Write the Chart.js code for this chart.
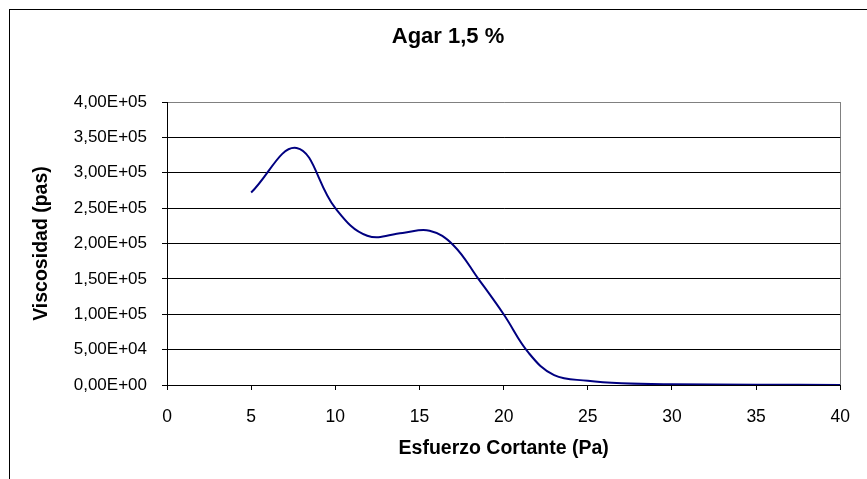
<!DOCTYPE html>
<html>
<head>
<meta charset="utf-8">
<script src="https://cdn.jsdelivr.net/npm/chart.js@4/dist/chart.umd.min.js"></script>
<style>
  html, body { margin: 0; padding: 0; background: #fff; overflow: hidden; }
  #wrap { position: absolute; left: 0; top: 0; width: 867px; height: 479px; }
</style>
</head>
<body>
<div id="wrap"><canvas id="myChart"></canvas></div>
<script>
'use strict';

const esfuerzo = [5, 7.7, 10, 11.9, 14, 15.6, 17, 18.5, 20, 21.5, 23, 25, 27, 30, 35, 40];
const viscosidad = [272000, 335000, 250000, 211000, 215000, 218000, 198000, 150000, 100000, 45000, 14000, 6000, 2500, 1000, 400, 100];
const xTicks = [0, 5, 10, 15, 20, 25, 30, 35, 40];
const yTicks = [0, 50000, 100000, 150000, 200000, 250000, 300000, 350000, 400000];

const fmtSci = (v) => {
    if (v === 0) return '0,00E+00';
    const parts = v.toExponential(2).split('e');
    const m = parts[0].replace('.', ',');
    let e = parseInt(parts[1], 10);
    const sign = e < 0 ? '-' : '+';
    e = Math.abs(e);
    return m + 'E' + sign + (e < 10 ? '0' + e : e);
};

// outer frame + chart title
const frame = {
    id: 'frame',
    beforeDraw(chart) {
        const c = chart.ctx;
        c.save();
        c.fillStyle = '#fff';
        c.fillRect(0, 0, chart.width, chart.height);
        c.strokeStyle = '#000';
        c.lineWidth = 1;
        c.strokeRect(9.5, 9.5, 900, 500);
        c.restore();
    },
    afterDraw(chart) {
        const c = chart.ctx;
        c.save();
        c.fillStyle = '#000';
        c.font = 'bold 22px "Liberation Sans", Arial, sans-serif';
        c.textAlign = 'center';
        c.textBaseline = 'middle';
        c.fillText('Agar 1,5 %', 448, 37);
        c.restore();
    }
};

Chart.defaults.font.family = '"Liberation Sans", Arial, sans-serif';
Chart.defaults.color = '#000';

const config = {
    type: 'line',
    data: {
        datasets: [{
            label: 'Agar 1,5 %',
            data: esfuerzo.map((x, i) => ({x: x, y: viscosidad[i]})),
            borderColor: '#000080',
            borderWidth: 2,
            pointRadius: 0,
            fill: false,
            tension: 0.4
        }]
    },
    options: {
        responsive: true,
        maintainAspectRatio: false,
        animation: false,
        layout: {
            padding: {top: 102, left: 0, right: 19, bottom: 0}
        },
        plugins: {
            legend: {display: false},
            title: {display: false},
            tooltip: {enabled: false}
        },
        scales: {
            x: {
                type: 'linear',
                min: 0,
                max: 40,
                afterBuildTicks: (s) => { s.ticks = xTicks.map(v => ({value: v})); },
                afterFit: (s) => { s.height = 94; },
                border: {color: '#000', width: 1},
                grid: {
                    color: (ctx) => ctx.tick && ctx.tick.value === 40 ? '#808080' : 'rgba(0,0,0,0)',
                    tickColor: '#000',
                    tickLength: 5,
                    lineWidth: 1
                },
                ticks: {
                    padding: 17,
                    maxRotation: 0,
                    font: {size: 17.5}
                },
                title: {
                    display: true,
                    text: 'Esfuerzo Cortante (Pa)',
                    font: {size: 19.5, weight: 'bold'},
                    padding: {top: 0, bottom: 19}
                }
            },
            y: {
                min: 0,
                max: 400000,
                afterBuildTicks: (s) => { s.ticks = yTicks.map(v => ({value: v})); },
                afterFit: (s) => { s.width = 167; },
                border: {color: '#000', width: 1},
                grid: {
                    color: (ctx) => ctx.tick && ctx.tick.value === 400000 ? '#808080' : '#000',
                    tickColor: '#000',
                    tickLength: 5,
                    lineWidth: 1
                },
                ticks: {
                    padding: 15,
                    font: {size: 17},
                    callback: (v) => fmtSci(v)
                },
                title: {
                    display: true,
                    text: 'Viscosidad (pas)',
                    font: {size: 19.5, weight: 'bold'},
                    padding: {top: 30, bottom: 0}
                }
            }
        }
    },
    plugins: [frame]
};

let myChart = new Chart(document.getElementById('myChart'), config);
</script>
</body>
</html>
